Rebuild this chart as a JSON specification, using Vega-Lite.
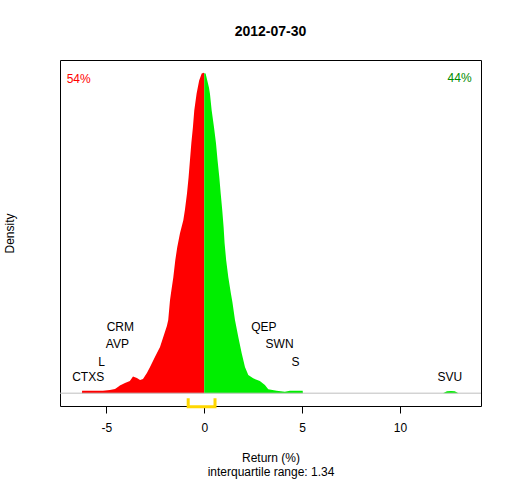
{
  "$schema": "https://vega.github.io/schema/vega-lite/v6.json",
  "width": 421,
  "height": 346,
  "autosize": "none",
  "padding": {"left": 60, "top": 60, "right": 31, "bottom": 74},
  "background": "white",
  "config": {
    "font": "Liberation Sans",
    "view": {"stroke": "black", "strokeWidth": 1},
    "axis": {"grid": false, "labelFont": "Liberation Sans", "titleFont": "Liberation Sans"}
  },
  "title": {
    "text": "2012-07-30",
    "fontSize": 14,
    "fontWeight": "bold",
    "font": "Liberation Sans",
    "color": "black",
    "anchor": "middle",
    "offset": 21
  },
  "datasets": {
    "dens": [
      {"x": -6.25, "d": 0, "part": "neg"},
      {"x": -6.24, "d": 0.0039, "part": "neg"},
      {"x": -5.18, "d": 0.0039, "part": "neg"},
      {"x": -4.82, "d": 0.005, "part": "neg"},
      {"x": -4.56, "d": 0.0065, "part": "neg"},
      {"x": -4.41, "d": 0.0097, "part": "neg"},
      {"x": -4.31, "d": 0.012, "part": "neg"},
      {"x": -4.05, "d": 0.0159, "part": "neg"},
      {"x": -3.8, "d": 0.019, "part": "neg"},
      {"x": -3.64, "d": 0.026, "part": "neg"},
      {"x": -3.44, "d": 0.0237, "part": "neg"},
      {"x": -3.28, "d": 0.0206, "part": "neg"},
      {"x": -3.13, "d": 0.0221, "part": "neg"},
      {"x": -2.93, "d": 0.0315, "part": "neg"},
      {"x": -2.77, "d": 0.0408, "part": "neg"},
      {"x": -2.52, "d": 0.0564, "part": "neg"},
      {"x": -2.26, "d": 0.072, "part": "neg"},
      {"x": -2.06, "d": 0.0907, "part": "neg"},
      {"x": -1.91, "d": 0.1047, "part": "neg"},
      {"x": -1.84, "d": 0.1141, "part": "neg"},
      {"x": -1.75, "d": 0.1452, "part": "neg"},
      {"x": -1.7, "d": 0.1561, "part": "neg"},
      {"x": -1.58, "d": 0.1811, "part": "neg"},
      {"x": -1.48, "d": 0.2076, "part": "neg"},
      {"x": -1.38, "d": 0.2278, "part": "neg"},
      {"x": -1.24, "d": 0.2496, "part": "neg"},
      {"x": -1.07, "d": 0.2699, "part": "neg"},
      {"x": -0.99, "d": 0.2855, "part": "neg"},
      {"x": -0.88, "d": 0.312, "part": "neg"},
      {"x": -0.8, "d": 0.3369, "part": "neg"},
      {"x": -0.73, "d": 0.3634, "part": "neg"},
      {"x": -0.66, "d": 0.3899, "part": "neg"},
      {"x": -0.58, "d": 0.4148, "part": "neg"},
      {"x": -0.51, "d": 0.4413, "part": "neg"},
      {"x": -0.39, "d": 0.4678, "part": "neg"},
      {"x": -0.26, "d": 0.488, "part": "neg"},
      {"x": -0.13, "d": 0.499, "part": "neg"},
      {"x": -0.03, "d": 0.5, "part": "neg"},
      {"x": 0, "d": 0.4995, "part": "neg"},
      {"x": 0, "d": 0.4995, "part": "pos"},
      {"x": 0.07, "d": 0.499, "part": "pos"},
      {"x": 0.24, "d": 0.477, "part": "pos"},
      {"x": 0.29, "d": 0.4678, "part": "pos"},
      {"x": 0.38, "d": 0.4413, "part": "pos"},
      {"x": 0.5, "d": 0.4148, "part": "pos"},
      {"x": 0.6, "d": 0.3899, "part": "pos"},
      {"x": 0.68, "d": 0.3634, "part": "pos"},
      {"x": 0.77, "d": 0.3369, "part": "pos"},
      {"x": 0.84, "d": 0.312, "part": "pos"},
      {"x": 0.92, "d": 0.2855, "part": "pos"},
      {"x": 0.99, "d": 0.259, "part": "pos"},
      {"x": 1.04, "d": 0.2341, "part": "pos"},
      {"x": 1.12, "d": 0.2076, "part": "pos"},
      {"x": 1.23, "d": 0.1811, "part": "pos"},
      {"x": 1.36, "d": 0.1561, "part": "pos"},
      {"x": 1.44, "d": 0.1421, "part": "pos"},
      {"x": 1.57, "d": 0.1141, "part": "pos"},
      {"x": 1.74, "d": 0.0876, "part": "pos"},
      {"x": 1.91, "d": 0.0626, "part": "pos"},
      {"x": 2.08, "d": 0.0408, "part": "pos"},
      {"x": 2.25, "d": 0.0284, "part": "pos"},
      {"x": 2.5, "d": 0.0232, "part": "pos"},
      {"x": 2.84, "d": 0.019, "part": "pos"},
      {"x": 3.1, "d": 0.0128, "part": "pos"},
      {"x": 3.27, "d": 0.0061, "part": "pos"},
      {"x": 3.7, "d": 0.0039, "part": "pos"},
      {"x": 4.12, "d": 0.0023, "part": "pos"},
      {"x": 4.38, "d": 0.0039, "part": "pos"},
      {"x": 4.89, "d": 0.0039, "part": "pos"},
      {"x": 5.03, "d": 0.0039, "part": "pos"},
      {"x": 5.04, "d": 0, "part": "pos"},
      {"x": 12.2, "d": 0, "part": "svu"},
      {"x": 12.4, "d": 0.003, "part": "svu"},
      {"x": 12.6, "d": 0.0036, "part": "svu"},
      {"x": 12.8, "d": 0.003, "part": "svu"},
      {"x": 12.99, "d": 0, "part": "svu"}
    ],
    "tickers": [
      {"x": -5.93, "d": 0.0245, "name": "CTXS"},
      {"x": -5.24, "d": 0.0494, "name": "L"},
      {"x": -4.44, "d": 0.0767, "name": "AVP"},
      {"x": -4.29, "d": 0.1034, "name": "CRM"},
      {"x": 3.05, "d": 0.1034, "name": "QEP"},
      {"x": 3.85, "d": 0.0767, "name": "SWN"},
      {"x": 4.66, "d": 0.0494, "name": "S"},
      {"x": 12.55, "d": 0.0252, "name": "SVU"}
    ],
    "iqr": [
      {"i": 1, "x": -0.82, "d": -0.0079},
      {"i": 2, "x": -0.82, "d": -0.0212},
      {"i": 3, "x": 0.55, "d": -0.0212},
      {"i": 4, "x": 0.55, "d": -0.0079}
    ]
  },
  "layer": [
    {
      "data": {"name": "dens"},
      "mark": {"type": "area", "interpolate": "linear"},
      "encoding": {
        "x": {
          "field": "x",
          "type": "quantitative",
          "scale": {"domain": [-7.37, 14.14], "nice": false, "zero": false},
          "axis": {
            "values": [-5, 0, 5, 10],
            "labelExpr": "replace(datum.label, '\u2212', '-')",
            "domain": false,
            "tickColor": "black",
            "tickSize": 7,
            "labelFontSize": 12,
            "labelColor": "black",
            "labelPadding": 9,
            "title": ["Return (%)", "interquartile range: 1.34"],
            "titleFontSize": 12,
            "titleFontWeight": "normal",
            "titleColor": "black",
            "titleLineHeight": 14,
            "titlePadding": 19
          }
        },
        "y": {
          "field": "d",
          "type": "quantitative",
          "stack": null,
          "scale": {"domain": [-0.02, 0.52], "nice": false, "zero": false},
          "axis": {
            "domain": false,
            "ticks": false,
            "labels": false,
            "title": "Density",
            "titleFontSize": 12,
            "titleFontWeight": "normal",
            "titleColor": "black",
            "titlePadding": 44
          }
        },
        "detail": {"field": "part"},
        "color": {
          "field": "part",
          "type": "nominal",
          "scale": {"domain": ["neg", "pos", "svu"], "range": ["#FF0000", "#00EE00", "#00EE00"]},
          "legend": null
        }
      }
    },
    {
      "data": {"values": [{"d": 0}]},
      "mark": {"type": "rule", "color": "#BEBEBE", "strokeWidth": 1},
      "encoding": {"y": {"field": "d", "type": "quantitative"}}
    },
    {
      "data": {"name": "iqr"},
      "mark": {"type": "line", "color": "#FFD700", "strokeWidth": 3, "strokeJoin": "miter", "strokeCap": "butt"},
      "encoding": {
        "x": {"field": "x", "type": "quantitative"},
        "y": {"field": "d", "type": "quantitative"},
        "order": {"field": "i"}
      }
    },
    {
      "data": {"name": "tickers"},
      "mark": {"type": "text", "fontSize": 12, "color": "black", "align": "center", "baseline": "middle"},
      "encoding": {
        "x": {"field": "x", "type": "quantitative"},
        "y": {"field": "d", "type": "quantitative"},
        "text": {"field": "name"}
      }
    },
    {
      "data": {"values": [{"x": -7.03, "d": 0.4907, "pct": "54%"}]},
      "mark": {"type": "text", "fontSize": 12, "color": "#FF0000", "align": "left", "baseline": "middle"},
      "encoding": {
        "x": {"field": "x", "type": "quantitative"},
        "y": {"field": "d", "type": "quantitative"},
        "text": {"field": "pct"}
      }
    },
    {
      "data": {"values": [{"x": 13.66, "d": 0.4923, "pct": "44%"}]},
      "mark": {"type": "text", "fontSize": 12, "color": "#008B00", "align": "right", "baseline": "middle"},
      "encoding": {
        "x": {"field": "x", "type": "quantitative"},
        "y": {"field": "d", "type": "quantitative"},
        "text": {"field": "pct"}
      }
    }
  ]
}
